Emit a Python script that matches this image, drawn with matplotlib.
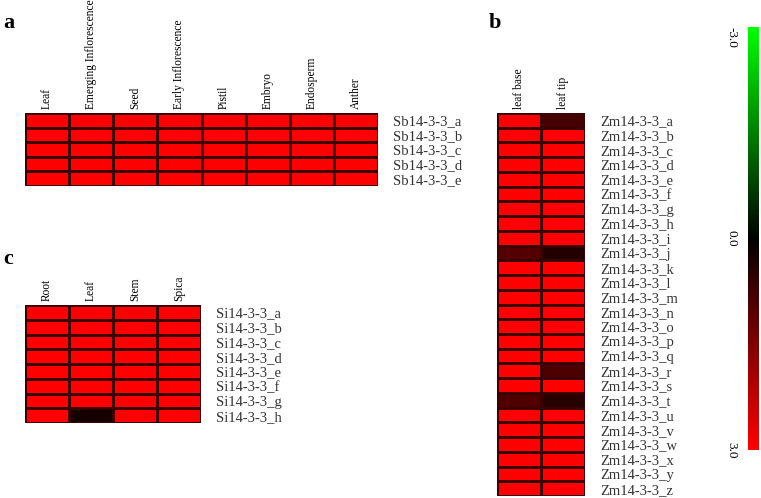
import numpy as np
import matplotlib
matplotlib.use("Agg")
import matplotlib.pyplot as plt
from matplotlib.colors import LinearSegmentedColormap, Normalize
from matplotlib.cm import ScalarMappable

plt.rcParams['font.family'] = ['Liberation Serif', 'DejaVu Serif']

# Sorghum (panel a)
sb_tissues = ["Leaf", "Emerging Inflorescence", "Seed", "Early Inflorescence",
              "Pistil", "Embryo", "Endosperm", "Anther"]
sb_genes = ["Sb14-3-3_" + s for s in "abcde"]
sb_values = [[3.0] * 8 for _ in sb_genes]

# Maize (panel b)
zm_tissues = ["leaf base", "leaf tip"]
zm_genes = ["Zm14-3-3_" + s for s in "abcdefghijklmnopqrstuvwxyz"]
zm_leaf_base = [3.0, 3.0, 3.0, 3.0, 3.0, 3.0, 3.0, 3.0, 3.0, 1.0,
                3.0, 3.0, 3.0, 3.0, 3.0, 3.0, 3.0, 3.0, 3.0, 0.95,
                3.0, 3.0, 3.0, 3.0, 3.0, 3.0]
zm_leaf_tip = [0.8, 3.0, 3.0, 3.0, 3.0, 3.0, 3.0, 3.0, 3.0, 0.4,
               3.0, 3.0, 3.0, 3.0, 3.0, 3.0, 3.0, 0.9, 3.0, 0.45,
               3.0, 3.0, 3.0, 3.0, 3.0, 3.0]

# Foxtail millet (panel c)
si_tissues = ["Root", "Leaf", "Stem", "Spica"]
si_genes = ["Si14-3-3_" + s for s in "abcdefgh"]
si_root = [3.0] * 8
si_leaf = [3.0, 3.0, 3.0, 3.0, 3.0, 3.0, 3.0, 0.25]
si_stem = [3.0] * 8
si_spica = [3.0] * 8

cmap = LinearSegmentedColormap.from_list("gkr", ["#00ff00", "#000000", "#ff0000"])
norm = Normalize(-3, 3)

W, H = 761, 498
fig = plt.figure(figsize=(W / 100, H / 100), dpi=100)


def box(left, top, right, bottom):
    return [left / W, 1 - bottom / H, (right - left) / W, (bottom - top) / H]


def heatmap(rect, data, cols, rows):
    ax = fig.add_axes(rect)
    data = np.array(data)
    ax.pcolormesh(data, cmap=cmap, norm=norm, edgecolors="#3c0000", linewidth=0.8)
    ax.set_xlim(0, data.shape[1])
    ax.set_ylim(data.shape[0], 0)
    ax.xaxis.tick_top()
    ax.set_xticks(np.arange(data.shape[1]) + 0.5)
    ax.set_xticklabels(cols, rotation=90, fontsize=8.3)
    ax.yaxis.tick_right()
    ax.set_yticks(np.arange(data.shape[0]) + 0.5)
    ax.set_yticklabels(rows, fontsize=10.5, color="#333333")
    ax.tick_params(length=0, pad=3)
    ax.tick_params(axis="y", pad=11)
    for s in ax.spines.values():
        s.set_visible(False)
    return ax


heatmap(box(25, 113, 378, 186), sb_values, sb_tissues, sb_genes)
heatmap(box(497, 113, 585, 496), np.column_stack([zm_leaf_base, zm_leaf_tip]),
        zm_tissues, zm_genes)
heatmap(box(25, 305, 201, 423), np.column_stack([si_root, si_leaf, si_stem, si_spica]),
        si_tissues, si_genes)

# colour bar (green on top)
cax = fig.add_axes(box(748, 27, 759, 450))
cb = fig.colorbar(ScalarMappable(norm=norm, cmap=cmap), cax=cax)
cax.invert_yaxis()
cb.outline.set_visible(False)
cax.set_yticks([])
for v, va in [(-3.0, "top"), (0.0, "center"), (3.0, "center")]:
    cax.text(-1.5, v, f"{v:.1f}", rotation=-90, ha="center", va=va, fontsize=9.5)

for x, y, s in [(3, 28, "a"), (489, 28, "b"), (3, 264, "c")]:
    fig.text(x / W, 1 - y / H, s, fontsize=16, fontweight="bold")

fig.savefig("out.png", dpi=100)
